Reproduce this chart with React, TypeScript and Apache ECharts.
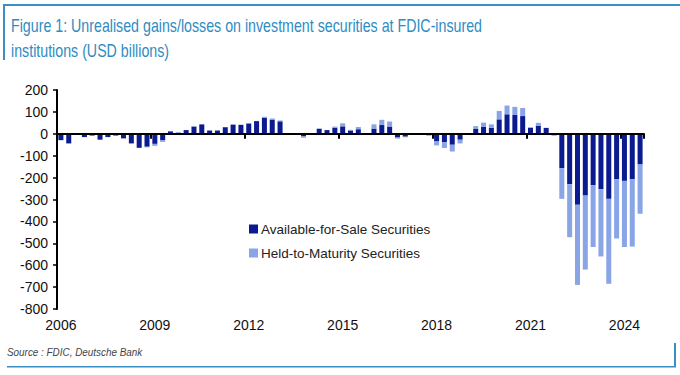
import React, { useEffect, useRef } from "react";
import * as echarts from "echarts";

const startYear = 2006;
const quarterCount = 75;
const categories: string[] = [];
for (let i = 0; i < quarterCount; i++) {
  categories.push(`${startYear + Math.floor(i / 4)}Q${(i % 4) + 1}`);
}

const seriesNames = ["Available-for-Sale Securities", "Held-to-Maturity Securities"];

const afsValues = [
  -29, -44, -4, -15, -8, -27, -15, -8, -21, -44, -64, -59, -46, -30, 11, 5,
  17, 33, 43, 15, 15, 30, 42, 41, 47, 58, 73, 65, 57, 2, 2, -12,
  1, 23, 17, 27, 34, 15, 21, 1, 24, 40, 33, -17, -13, -1, 0, -3,
  -35, -39, -50, -27, 0, 22, 31, 27, 66, 89, 86, 81, 28, 37, 27, -3,
  -157, -230, -324, -282, -234, -253, -297, -207, -215, -207, -140,
];

const htmValues = [
  0, 0, 0, 0, 0, 0, 0, 0, 0, 0, 0, -3, -9, -7, 0, 3,
  0, 2, 0, 0, 0, 0, 0, 0, 1, 1, 5, 5, 4, 0, 0, -6,
  0, 1, 0, 6, 14, 3, 10, 2, 19, 24, 23, -5, -3, 0, 1, -6,
  -18, -26, -31, -17, 0, 13, 20, 16, 38, 40, 37, 37, 0, 13, 0, -6,
  -140, -242, -366, -338, -283, -307, -388, -271, -302, -308, -225,
];

const yTicks = { min: -800, max: 200, interval: 100 };
const labelEvery = 12;

const titleLines = [
  "Figure 1: Unrealised gains/losses on investment securities at FDIC-insured",
  "institutions (USD billions)",
];
const sourceText = "Source : FDIC, Deutsche Bank";

const FONT = "'Liberation Sans', Arial, Helvetica, sans-serif";
const frameColor = "#3a8fc4";
const titleColor = "#2f8cc2";
const darkBlue = "#0b1a8e";
const lightBlue = "#89a5e6";

export default function App() {
  const ref = useRef<HTMLDivElement>(null);

  useEffect(() => {
    if (!ref.current) return;
    const chart = echarts.init(ref.current, undefined, { renderer: "svg" });
    chart.setOption({
      animation: false,
      backgroundColor: "#ffffff",
      textStyle: { fontFamily: FONT },
      grid: { left: 57, right: 36, top: 90, bottom: 66, containLabel: false },
      legend: {
        data: seriesNames,
        orient: "vertical",
        left: 244,
        top: 217,
        itemWidth: 9,
        itemHeight: 9,
        itemGap: 10,
        icon: "rect",
        textStyle: { fontSize: 13.5, color: "#222", fontFamily: FONT, padding: [0, 0, 0, -2] },
      },
      xAxis: [
        {
          type: "category",
          data: categories,
          position: "bottom",
          axisLine: { show: false, onZero: false },
          axisTick: { show: false },
          splitLine: { show: false },
          axisLabel: {
            interval: (i: number) => i % labelEvery === 0,
            formatter: (v: string) => v.slice(0, 4),
            fontSize: 14,
            color: "#111",
            margin: 9,
            fontFamily: FONT,
          },
        },
        {
          type: "category",
          data: categories,
          position: "bottom",
          axisLine: { show: true, onZero: true, lineStyle: { color: "#000", width: 2 } },
          axisTick: {
            show: true,
            interval: (i: number) => i % labelEvery === 0 && i > 0,
            length: 5,
            lineStyle: { color: "#000", width: 2 },
          },
          axisLabel: { show: false },
          splitLine: { show: false },
          z: 5,
        },
      ],
      yAxis: {
        type: "value",
        min: yTicks.min,
        max: yTicks.max,
        interval: yTicks.interval,
        axisLine: { show: true, lineStyle: { color: "#000", width: 2 } },
        axisTick: { show: true, length: 4, lineStyle: { color: "#000", width: 1.5 } },
        splitLine: { show: false },
        axisLabel: { fontSize: 14, color: "#111", margin: 9, fontFamily: FONT },
      },
      series: [
        {
          name: seriesNames[0],
          type: "bar",
          stack: "total",
          data: afsValues,
          itemStyle: { color: darkBlue },
          barCategoryGap: "36%",
        },
        {
          name: seriesNames[1],
          type: "bar",
          stack: "total",
          data: htmValues,
          itemStyle: { color: lightBlue },
          barCategoryGap: "36%",
        },
      ],
      graphic: [
        { type: "rect", shape: { x: 3, y: 4, width: 677, height: 2 }, style: { fill: frameColor } },
        { type: "rect", shape: { x: 3, y: 4, width: 2, height: 56 }, style: { fill: frameColor } },
        { type: "rect", shape: { x: 7, y: 366, width: 669, height: 1.5 }, style: { fill: frameColor } },
        { type: "rect", shape: { x: 674, y: 343, width: 2, height: 24 }, style: { fill: frameColor } },
        {
          type: "text",
          x: 11,
          y: 25,
          scaleX: 0.79,
          style: {
            text: titleLines[0],
            font: `18px ${FONT}`,
            fill: titleColor,
            verticalAlign: "middle",
          },
        },
        {
          type: "text",
          x: 11,
          y: 50,
          scaleX: 0.79,
          style: {
            text: titleLines[1],
            font: `18px ${FONT}`,
            fill: titleColor,
            verticalAlign: "middle",
          },
        },
        {
          type: "text",
          x: 7,
          y: 352,
          scaleX: 0.9,
          style: {
            text: sourceText,
            font: `italic 11px ${FONT}`,
            fill: "#444",
            verticalAlign: "middle",
          },
        },
      ],
    });
    return () => chart.dispose();
  }, []);

  return (
    <div
      ref={ref}
      style={{ position: "fixed", left: 0, top: 0, width: 680, height: 375 }}
    />
  );
}
